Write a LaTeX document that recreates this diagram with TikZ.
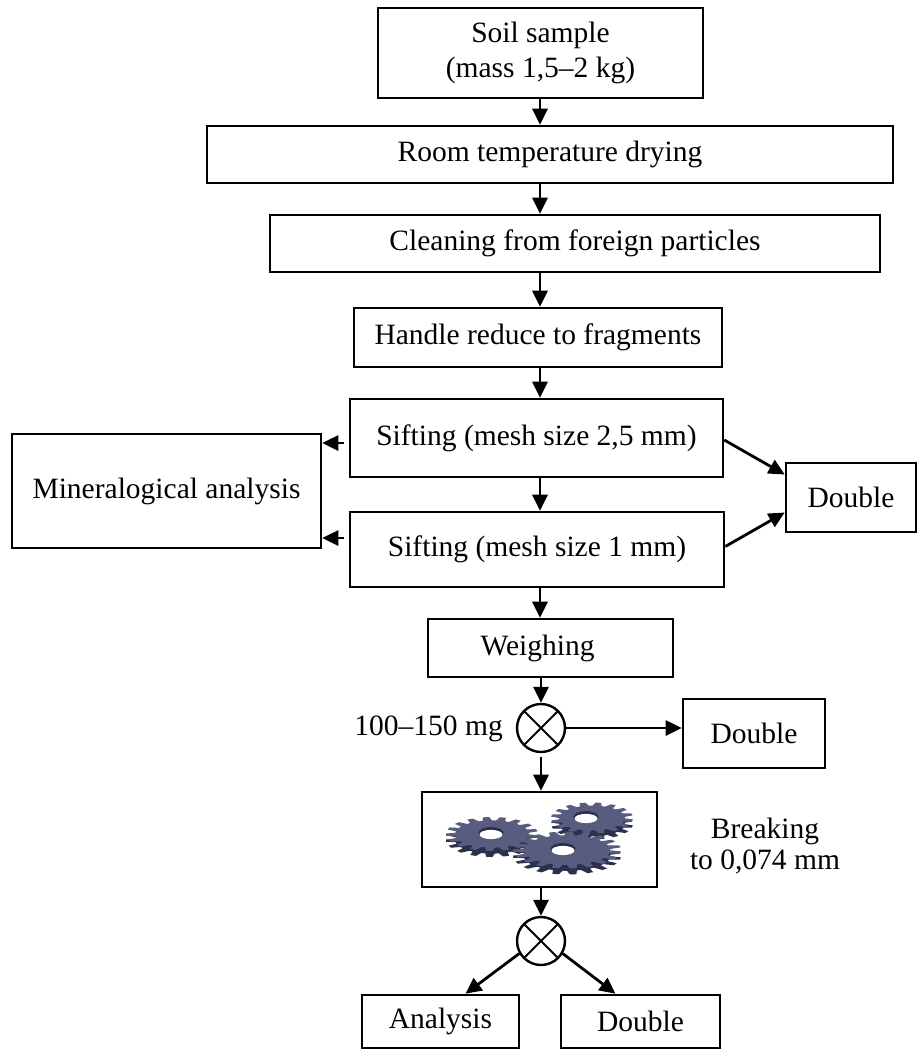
\documentclass[tikz,border=0pt]{standalone}
\usepackage{fontspec}
\setmainfont{Liberation Serif}
\usetikzlibrary{arrows.meta,calc}

\definecolor{gearface}{RGB}{88,92,126}
\definecolor{gearside}{RGB}{44,48,76}

% outline of a gear with #1 teeth, unit outer radius
\newcommand{\gearoutline}[1]{%
  (0:0.8) \foreach \k in {1,...,#1}{
    -- ({(\k-0.95)*360/#1}:0.8) -- ({(\k-0.78)*360/#1}:1) -- ({(\k-0.42)*360/#1}:1) -- ({(\k-0.25)*360/#1}:0.8)
  } -- cycle}

% gear: centre x, centre y, x radius, y radius, teeth, hole x, hole y
\newcommand{\drawgear}[7]{%
  \fill[gearside, shift={(#1,#2+6)}, xscale=#3, yscale=#4] \gearoutline{#5};
  \fill[gearface, shift={(#1,#2)}, xscale=#3, yscale=#4] \gearoutline{#5};
  \fill[gearside] (#6,#7) ellipse [x radius=12.5pt, y radius=6pt];
  \fill[white] (#6,#7+1.5) ellipse [x radius=11.5pt, y radius=4.6pt];
}

\tikzset{
  box/.style={draw, line width=2.6pt, rectangle, inner sep=0pt,
    font=\fontsize{29.5}{35}\selectfont, align=center},
  arr/.style={line width=2.8pt, -{Triangle[length=16pt,width=15pt]}},
  mixer/.style={draw, circle, line width=2.4pt, minimum size=48pt, inner sep=0pt,
    path picture={
      \draw[line width=2pt] (path picture bounding box.north west) -- (path picture bounding box.south east);
      \draw[line width=2pt] (path picture bounding box.south west) -- (path picture bounding box.north east);
    }},
  plain/.style={font=\fontsize{29.5}{31}\selectfont, align=center, inner sep=0pt}
}

\begin{document}
\begin{tikzpicture}[x=1pt, y=-1pt]
  \fill[white] (0,0) rectangle (920,1053);
  \useasboundingbox (0,0) rectangle (920,1053);

  \coordinate (axis) at (540,0);

  % main column
  \node[box, minimum width=325pt, minimum height=90pt] (soil) at (540.5,53) {Soil sample\\(mass 1,5–2 kg)};
  \node[box, minimum width=686pt, minimum height=57pt] (room) at (550,154.5) {Room temperature drying};
  \node[box, minimum width=610pt, minimum height=57pt] (clean) at (575,243.5) {Cleaning from foreign particles};
  \node[box, minimum width=368pt, minimum height=59pt] (handle) at (538,337.5) {Handle reduce to fragments};
  \node[box, minimum width=373pt, minimum height=78pt] (sift1) at (536.5,438) {Sifting (mesh size 2,5 mm)};
  \node[box, minimum width=374pt, minimum height=75pt] (sift2) at (537,549.5) {Sifting (mesh size 1 mm)};
  \node[box, minimum width=309pt, minimum height=114pt] (minera) at (166.5,491) {Mineralogical analysis};
  \node[box, minimum width=130pt, minimum height=69pt] (double1) at (851,497.5) {Double};
  \node[box, minimum width=245pt, minimum height=58pt] (weigh) at (550.5,648) {Weighing\hspace*{26pt}};
  \node[mixer] (mix1) at (541,728) {};
  \node[box, minimum width=142pt, minimum height=69pt] (double2) at (754,733.5) {Double};
  \node[box, minimum width=235pt, minimum height=95pt] (crusher) at (539.5,839.5) {};
  \node[mixer] (mix2) at (541,941) {};
  \node[box, minimum width=157pt, minimum height=53pt] (analysis) at (440.5,1021.5) {Analysis};
  \node[box, minimum width=159pt, minimum height=53pt] (double3) at (640.5,1021.5) {Double};

  % side labels
  \node[plain, anchor=east] (mass) at (503,729) {100–150 mg};
  \node[plain] (breaking) at (765,846) {Breaking\\to 0,074 mm};

  % gears in the crusher box
  \drawgear{592}{818}{41}{15.5}{16}{586}{817}
  \drawgear{492}{834}{46}{17}{17}{491}{833}
  \drawgear{567}{850}{54}{18.5}{19}{563}{849}

  % vertical flow
  \draw[arr] (soil.south -| axis) -- (room.north -| axis);
  \draw[arr] (room.south -| axis) -- (clean.north -| axis);
  \draw[arr] (clean.south -| axis) -- (handle.north -| axis);
  \draw[arr] (handle.south -| axis) -- (sift1.north -| axis);
  \draw[arr] (sift1.south -| axis) -- (sift2.north -| axis);
  \draw[arr] (sift2.south -| axis) -- (weigh.north -| axis);
  \draw[arr] (weigh.south -| mix1) -- (mix1.north);
  \draw[arr] ([yshift=-4pt]mix1.south) -- (crusher.north -| mix1);
  \draw[arr] (crusher.south -| mix2) -- (mix2.north);

  % branches
  \coordinate (m1) at (0,443);
  \coordinate (m2) at (0,538);
  \draw[arr] ([xshift=-5pt]sift1.west |- m1) -- (minera.east |- m1);
  \draw[arr] ([xshift=-5pt]sift2.west |- m2) -- (minera.east |- m2);
  \draw[arr] ([yshift=-2pt]sift1.east) -- ($(double1.west)+(0,-23)$);
  \draw[arr] ([yshift=3pt]sift2.east) -- ($(double1.west)+(0,15)$);
  \draw[arr] (mix1.east) -- (mix1.east -| double2.west);
  \draw[arr] (mix2.210) -- ($(analysis.north)+(25,0)$);
  \draw[arr] (mix2.330) -- ($(double3.north)+(-25,0)$);
\end{tikzpicture}
\end{document}
